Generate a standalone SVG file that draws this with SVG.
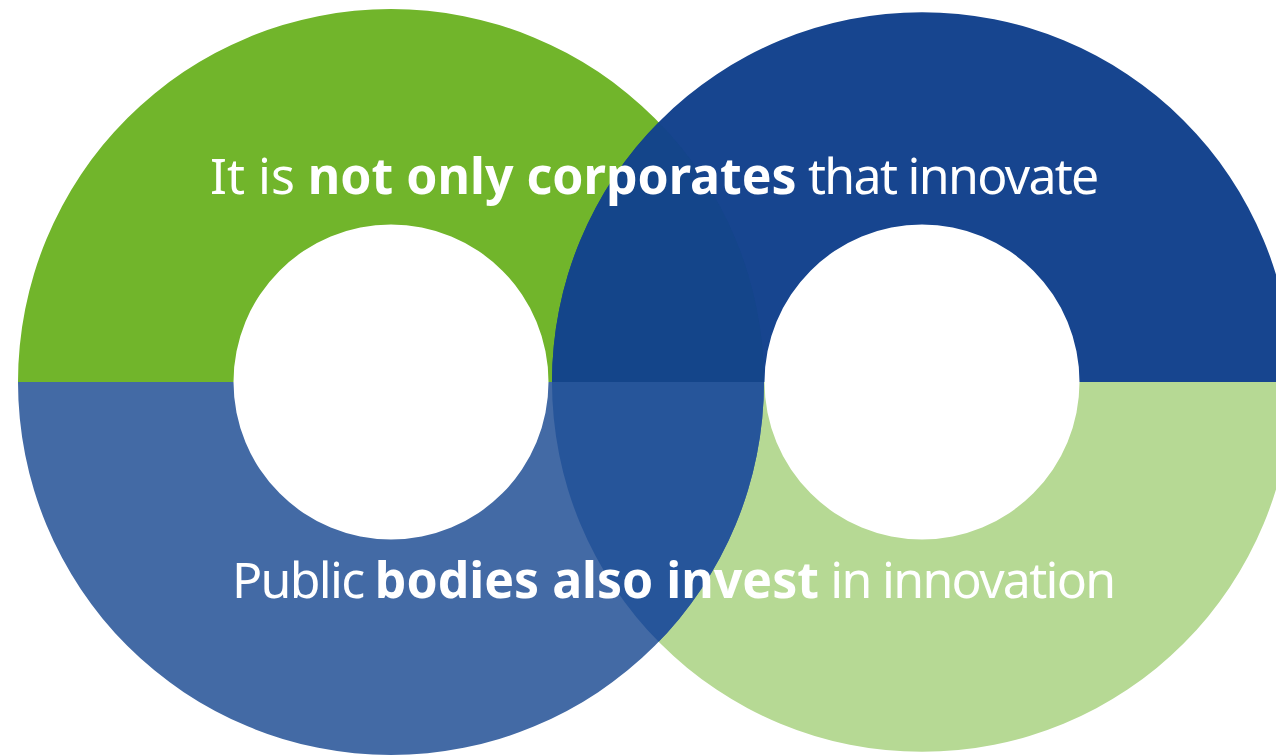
<svg xmlns="http://www.w3.org/2000/svg" width="1276" height="756" viewBox="0 0 1276 756">
  <style>
    .txt { font-family: "Noto Sans", "DejaVu Sans", sans-serif; font-size: 50px; fill: #ffffff; }
    .b { font-weight: bold; }
    .r { letter-spacing: -1.7px; }
  </style>
  <defs>
    <path id="lt" d="M 18 382 A 373 373 0 0 1 764 382 L 548.5 382 A 157.5 157.5 0 0 0 233.5 382 Z"/>
    <path id="lb" d="M 18 382 A 373 373 0 0 0 764 382 L 548.5 382 A 157.5 157.5 0 0 1 233.5 382 Z"/>
    <path id="rt" d="M 552 382 A 370 370 0 0 1 1292 382 L 1079.5 382 A 157.5 157.5 0 0 0 764.5 382 Z"/>
    <path id="rb" d="M 552 382 A 370 370 0 0 0 1292 382 L 1079.5 382 A 157.5 157.5 0 0 1 764.5 382 Z"/>
    <clipPath id="clt"><use href="#lt"/></clipPath>
    <clipPath id="clb"><use href="#lb"/></clipPath>
  </defs>
  <rect width="1276" height="756" fill="#ffffff"/>
  <g id="ring-left-top"><use href="#lt" fill="#71B52B"/></g>
  <g id="ring-right-bottom"><use href="#rb" fill="#B6D994"/></g>
  <g id="ring-left-bottom"><use href="#lb" fill="#436AA5"/></g>
  <g id="ring-right-top"><use href="#rt" fill="#17458F"/></g>
  <g id="overlaps">
    <use href="#rt" fill="#14458A" clip-path="url(#clt)"/>
    <use href="#rb" fill="#26559A" clip-path="url(#clb)"/>
  </g>
  <g id="label-top">
    <text class="txt" x="210" y="194">It is <tspan class="b">not only corporates</tspan><tspan class="r"> that innovate</tspan></text>
  </g>
  <g id="label-bottom">
    <text class="txt" x="232" y="598"><tspan class="r">Public </tspan><tspan class="b">bodies also invest</tspan><tspan class="r"> in innovation</tspan></text>
  </g>
</svg>
